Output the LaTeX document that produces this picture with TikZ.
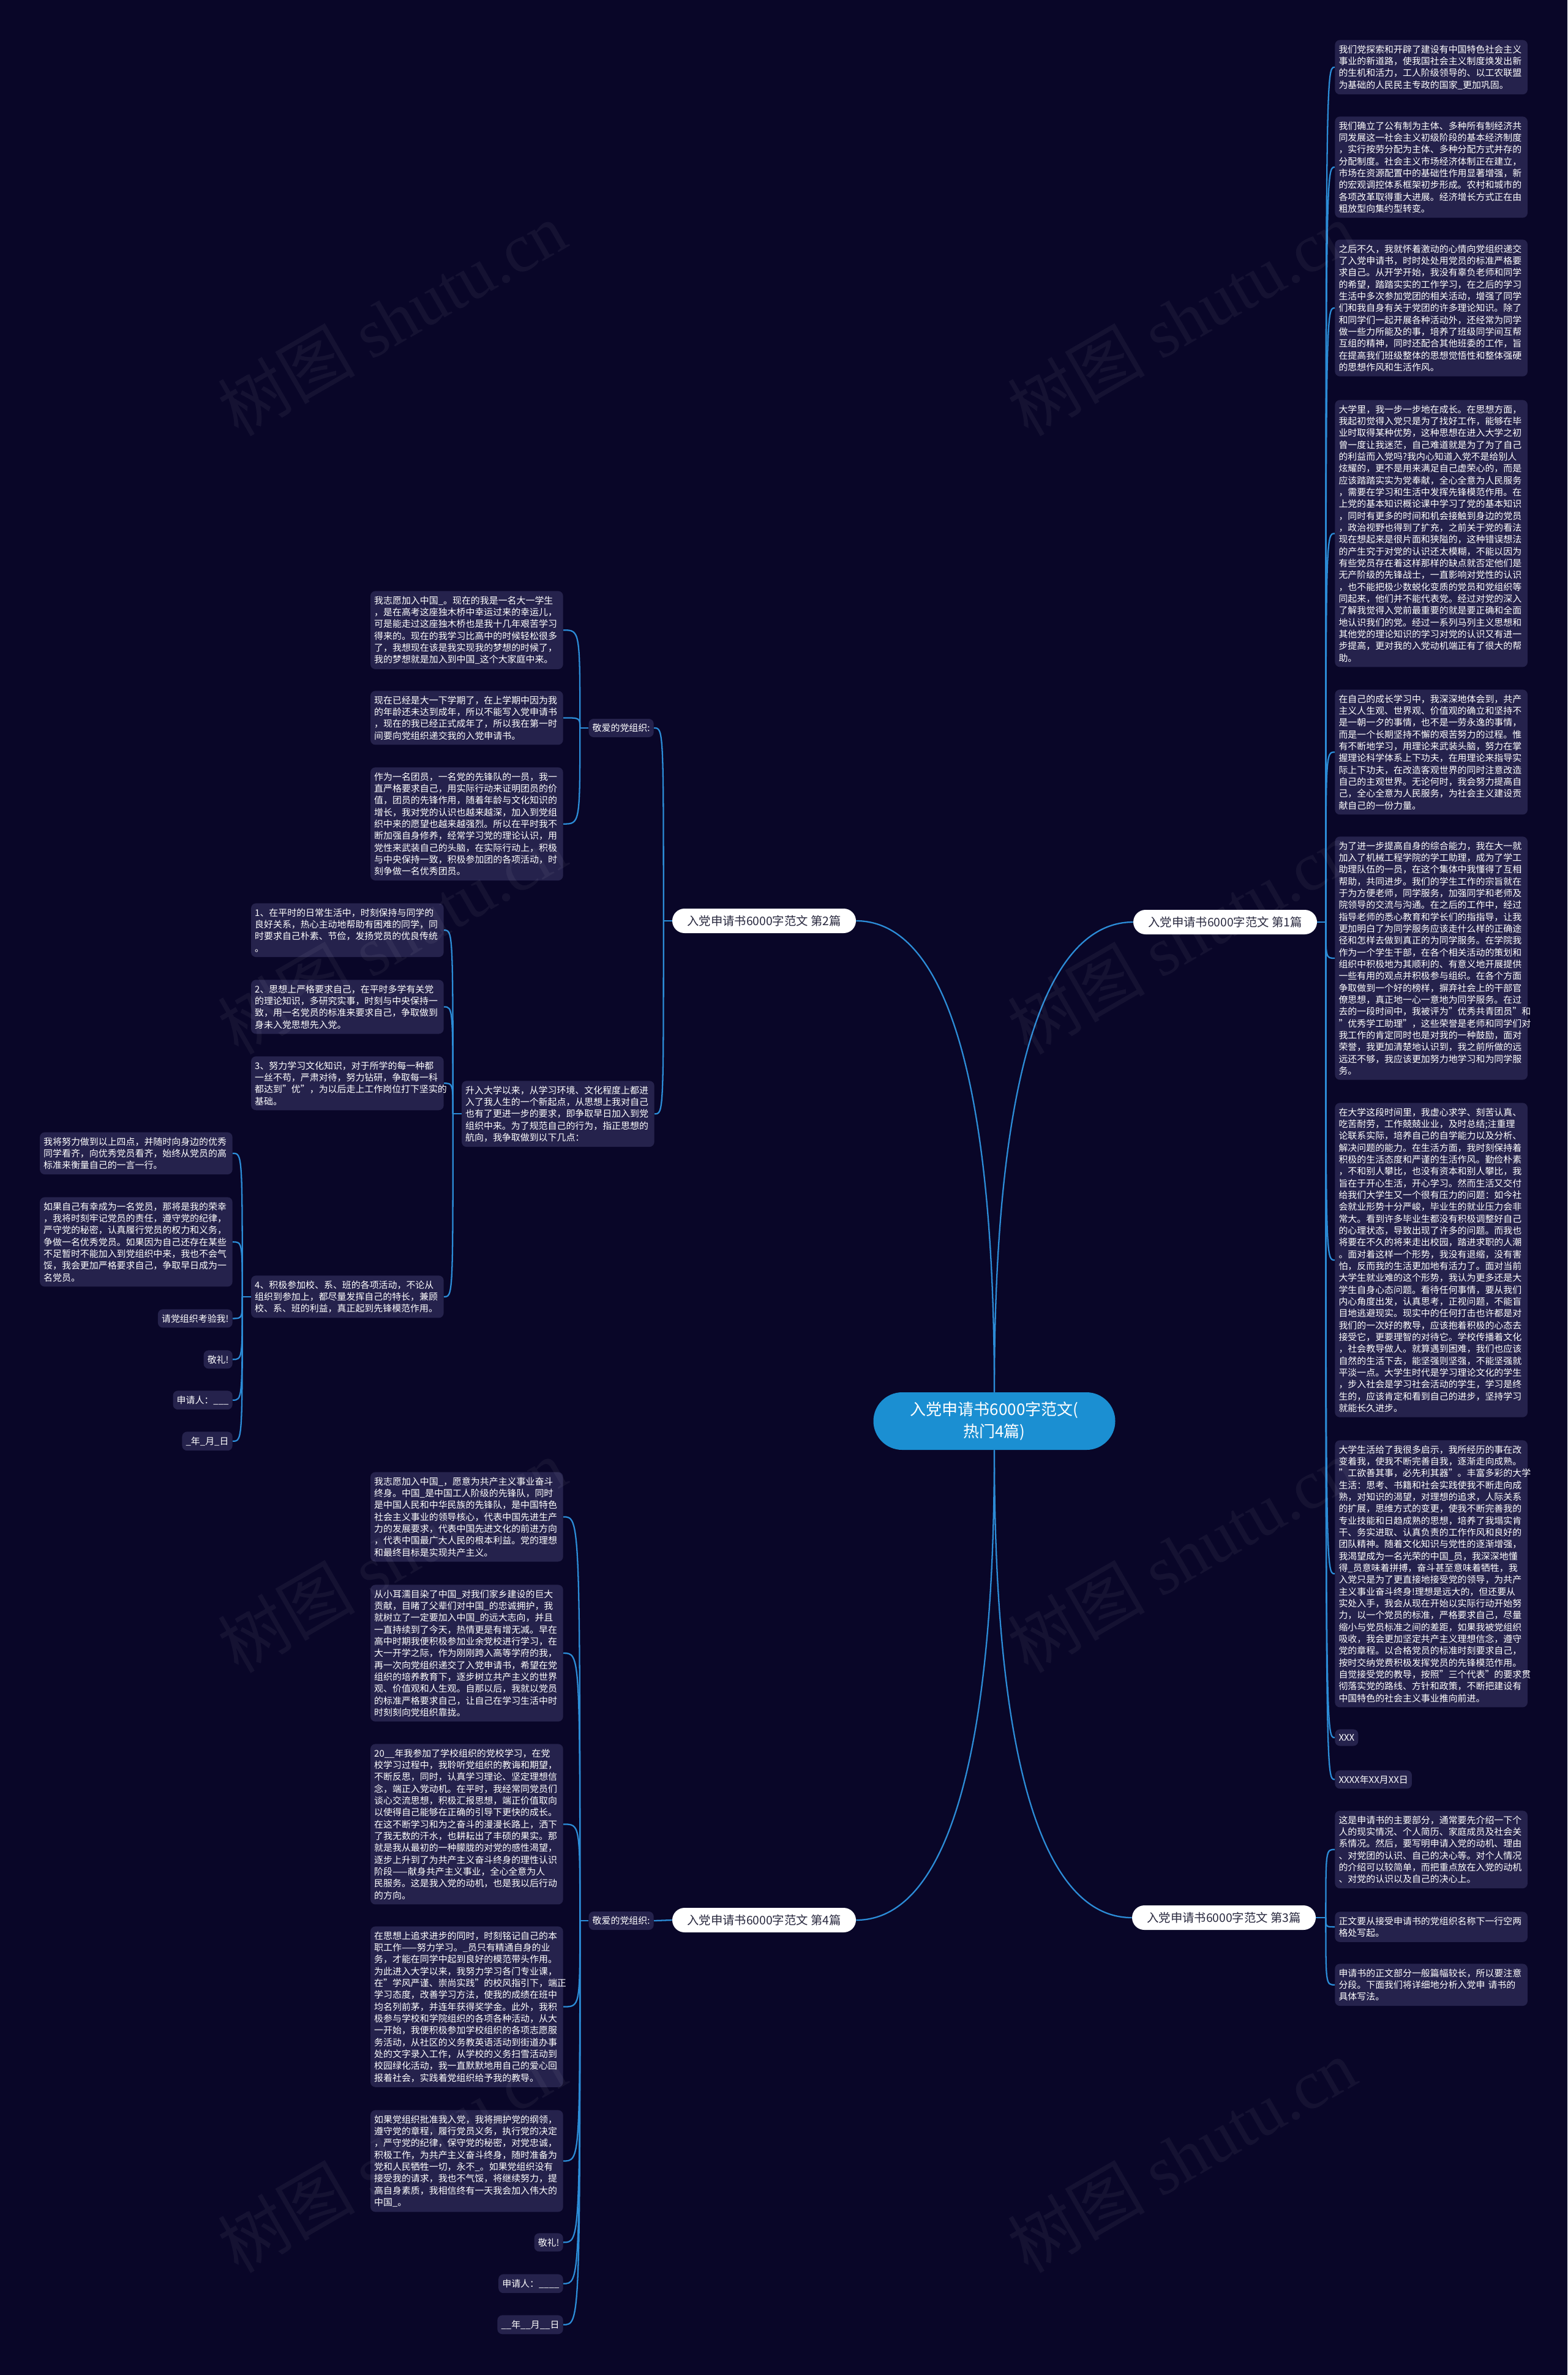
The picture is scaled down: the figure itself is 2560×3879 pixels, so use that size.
\documentclass[tikz,border=0pt]{standalone}
\usepackage{fontspec}
\setmainfont{Noto Sans CJK SC}
\newfontfamily\wmfont{Liberation Serif}

\definecolor{bgnavy}{RGB}{9,6,40}
\definecolor{cardfill}{RGB}{37,34,76}
\definecolor{linkblue}{RGB}{44,140,215}
\definecolor{rootblue}{RGB}{27,143,210}
\definecolor{pilltext}{RGB}{40,40,62}

\begin{document}
\begin{tikzpicture}[x=0.2mm,y=-0.2mm,
    cardbase/.style={fill=cardfill, rounded corners=1.6mm, text=white,
      font=\fontsize{8.5}{11}\selectfont, inner xsep=3.5pt, inner ysep=4.6pt},
    card/.style={cardbase, align=left, text width=172pt},
    tag/.style={cardbase},
    branch/.style={fill=white, text=pilltext, rounded corners=4mm, minimum width=60mm,
      minimum height=8mm, inner sep=0pt, font=\fontsize{11}{13}\selectfont},
    root/.style={fill=rootblue, text=white, rounded corners=9.4mm, minimum width=79mm,
      minimum height=18.8mm, align=center, font=\fontsize{14.8}{20}\selectfont},
    link/.style={draw=linkblue, line width=1.3pt},
    wmark/.style={text=white, opacity=0.05, rotate=30, font=\fontsize{64}{70}\selectfont}]

    % Background and page size
    \fill[bgnavy] (0,0) rectangle (2560,3879);
    \useasboundingbox (0,0) rectangle (2560,3879);

    % Root and the four essays
    \node[root] (root) at (1624,2321) {入党申请书6000字范文(\\热门4篇)};
    \node[branch] (b1) at (2001,1506) {入党申请书6000字范文 第1篇};
    \node[branch] (b2) at (1248,1504) {入党申请书6000字范文 第2篇};
    \node[branch] (b3) at (1999,3132) {入党申请书6000字范文 第3篇};
    \node[branch] (b4) at (1248,3136) {入党申请书6000字范文 第4篇};

    % Essay 1 (right column)
    \node[card, anchor=north west] (p1) at (2180,65) {我们党探索和开辟了建设有中国特色社会主义\\
事业的新道路，使我国社会主义制度焕发出新\\
的生机和活力，工人阶级领导的、以工农联盟\\
为基础的人民民主专政的国家\_更加巩固。};
    \node[card, anchor=north west] (p2) at (2180,190) {我们确立了公有制为主体、多种所有制经济共\\
同发展这一社会主义初级阶段的基本经济制度\\
，实行按劳分配为主体、多种分配方式并存的\\
分配制度。社会主义市场经济体制正在建立，\\
市场在资源配置中的基础性作用显著增强，新\\
的宏观调控体系框架初步形成。农村和城市的\\
各项改革取得重大进展。经济增长方式正在由\\
粗放型向集约型转变。};
    \node[card, anchor=north west] (p3) at (2180,391) {之后不久，我就怀着激动的心情向党组织递交\\
了入党申请书，时时处处用党员的标准严格要\\
求自己。从开学开始，我没有辜负老师和同学\\
的希望，踏踏实实的工作学习，在之后的学习\\
生活中多次参加党团的相关活动，增强了同学\\
们和我自身有关于党团的许多理论知识。除了\\
和同学们一起开展各种活动外，还经常为同学\\
做一些力所能及的事，培养了班级同学间互帮\\
互组的精神，同时还配合其他班委的工作，旨\\
在提高我们班级整体的思想觉悟性和整体强硬\\
的思想作风和生活作风。};
    \node[card, anchor=north west] (p4) at (2180,653) {大学里，我一步一步地在成长。在思想方面，\\
我起初觉得入党只是为了找好工作，能够在毕\\
业时取得某种优势，这种思想在进入大学之初\\
曾一度让我迷茫，自己难道就是为了为了自己\\
的利益而入党吗?我内心知道入党不是给别人\\
炫耀的，更不是用来满足自己虚荣心的，而是\\
应该踏踏实实为党奉献，全心全意为人民服务\\
，需要在学习和生活中发挥先锋模范作用。在\\
上党的基本知识概论课中学习了党的基本知识\\
，同时有更多的时间和机会接触到身边的党员\\
，政治视野也得到了扩充，之前关于党的看法\\
现在想起来是很片面和狭隘的，这种错误想法\\
的产生究于对党的认识还太模糊，不能以因为\\
有些党员存在着这样那样的缺点就否定他们是\\
无产阶级的先锋战士，一直影响对党性的认识\\
，也不能把极少数蜕化变质的党员和党组织等\\
同起来，他们并不能代表党。经过对党的深入\\
了解我觉得入党前最重要的就是要正确和全面\\
地认识我们的党。经过一系列马列主义思想和\\
其他党的理论知识的学习对党的认识又有进一\\
步提高，更对我的入党动机端正有了很大的帮\\
助。};
    \node[card, anchor=north west] (p5) at (2180,1126) {在自己的成长学习中，我深深地体会到，共产\\
主义人生观、世界观、价值观的确立和坚持不\\
是一朝一夕的事情，也不是一劳永逸的事情，\\
而是一个长期坚持不懈的艰苦努力的过程。惟\\
有不断地学习，用理论来武装头脑，努力在掌\\
握理论科学体系上下功夫，在用理论来指导实\\
际上下功夫，在改造客观世界的同时注意改造\\
自己的主观世界。无论何时，我会努力提高自\\
己，全心全意为人民服务，为社会主义建设贡\\
献自己的一份力量。};
    \node[card, anchor=north west] (p6) at (2180,1366) {为了进一步提高自身的综合能力，我在大一就\\
加入了机械工程学院的学工助理，成为了学工\\
助理队伍的一员，在这个集体中我懂得了互相\\
帮助，共同进步。我们的学生工作的宗旨就在\\
于为方便老师，同学服务，加强同学和老师及\\
院领导的交流与沟通。在之后的工作中，经过\\
指导老师的悉心教育和学长们的指指导，让我\\
更加明白了为同学服务应该走什么样的正确途\\
径和怎样去做到真正的为同学服务。在学院我\\
作为一个学生干部，在各个相关活动的策划和\\
组织中积极地为其顺利的、有意义地开展提供\\
一些有用的观点并积极参与组织。在各个方面\\
争取做到一个好的榜样，摒弃社会上的干部官\\
僚思想，真正地一心一意地为同学服务。在过\\
去的一段时间中，我被评为"优秀共青团员"和\\
"优秀学工助理"，这些荣誉是老师和同学们对\\
我工作的肯定同时也是对我的一种鼓励，面对\\
荣誉，我更加清楚地认识到，我之前所做的远\\
远还不够，我应该更加努力地学习和为同学服\\
务。};
    \node[card, anchor=north west] (p7) at (2180,1801) {在大学这段时间里，我虚心求学、刻苦认真、\\
吃苦耐劳，工作兢兢业业，及时总结;注重理\\
论联系实际，培养自己的自学能力以及分析、\\
解决问题的能力。在生活方面，我时刻保持着\\
积极的生活态度和严谨的生活作风。勤俭朴素\\
，不和别人攀比，也没有资本和别人攀比，我\\
旨在于开心生活，开心学习。然而生活又交付\\
给我们大学生又一个很有压力的问题：如今社\\
会就业形势十分严峻，毕业生的就业压力会非\\
常大。看到许多毕业生都没有积极调整好自己\\
的心理状态，导致出现了许多的问题。而我也\\
将要在不久的将来走出校园，踏进求职的人潮\\
。面对着这样一个形势，我没有退缩，没有害\\
怕，反而我的生活更加地有活力了。面对当前\\
大学生就业难的这个形势，我认为更多还是大\\
学生自身心态问题。看待任何事情，要从我们\\
内心角度出发，认真思考，正视问题，不能盲\\
目地逃避现实。现实中的任何打击也许都是对\\
我们的一次好的教导，应该抱着积极的心态去\\
接受它，更要理智的对待它。学校传播着文化\\
，社会教导做人。就算遇到困难，我们也应该\\
自然的生活下去，能坚强则坚强，不能坚强就\\
平淡一点。大学生时代是学习理论文化的学生\\
，步入社会是学习社会活动的学生，学习是终\\
生的，应该肯定和看到自己的进步，坚持学习\\
就能长久进步。};
    \node[card, anchor=north west] (p8) at (2180,2352) {大学生活给了我很多启示，我所经历的事在改\\
变着我，使我不断完善自我，逐渐走向成熟。\\
"工欲善其事，必先利其器"。丰富多彩的大学\\
生活：思考、书籍和社会实践使我不断走向成\\
熟，对知识的渴望，对理想的追求，人际关系\\
的扩展，思维方式的变更，使我不断完善我的\\
专业技能和日趋成熟的思想，培养了我塌实肯\\
干、务实进取、认真负责的工作作风和良好的\\
团队精神。随着文化知识与党性的逐渐增强，\\
我渴望成为一名光荣的中国\_员，我深深地懂\\
得\_员意味着拼搏，奋斗甚至意味着牺牲，我\\
入党只是为了更直接地接受党的领导，为共产\\
主义事业奋斗终身!理想是远大的，但还要从\\
实处入手，我会从现在开始以实际行动开始努\\
力，以一个党员的标准，严格要求自己，尽量\\
缩小与党员标准之间的差距，如果我被党组织\\
吸收，我会更加坚定共产主义理想信念，遵守\\
党的章程。以合格党员的标准时刻要求自己，\\
按时交纳党费积极发挥党员的先锋模范作用。\\
自觉接受党的教导，按照"三个代表"的要求贯\\
彻落实党的路线、方针和政策，不断把建设有\\
中国特色的社会主义事业推向前进。};
    \node[tag, anchor=north west] (p9) at (2180,2824) {XXX};
    \node[tag, anchor=north west] (p10) at (2180,2891) {XXXX年XX月XX日};

    % Essay 3 (right column, bottom)
    \node[card, anchor=north west] (q1) at (2180,2957) {这是申请书的主要部分，通常要先介绍一下个\\
人的现实情况、个人简历、家庭成员及社会关\\
系情况。然后，要写明申请入党的动机、理由\\
、对党团的认识、自己的决心等。对个人情况\\
的介绍可以较简单，而把重点放在入党的动机\\
、对党的认识以及自己的决心上。};
    \node[card, anchor=north west] (q2) at (2180,3122) {正文要从接受申请书的党组织名称下一行空两\\
格处写起。};
    \node[card, anchor=north west] (q3) at (2180,3207) {申请书的正文部分一般篇幅较长，所以要注意\\
分段。下面我们将详细地分析入党申 请书的\\
具体写法。};

    % Essay 2 (left, top)
    \node[tag, anchor=east] (g2) at (1068,1189) {敬爱的党组织:};
    \node[card, anchor=north east] (s2) at (1069,1765) {升入大学以来，从学习环境、文化程度上都进\\
入了我人生的一个新起点，从思想上我对自己\\
也有了更进一步的要求，即争取早日加入到党\\
组织中来。为了规范自己的行为，指正思想的\\
航向，我争取做到以下几点：};
    \node[card, anchor=north east] (a1) at (920,965) {我志愿加入中国\_。现在的我是一名大一学生\\
，是在高考这座独木桥中幸运过来的幸运儿，\\
可是能走过这座独木桥也是我十几年艰苦学习\\
得来的。现在的我学习比高中的时候轻松很多\\
了，我想现在该是我实现我的梦想的时候了，\\
我的梦想就是加入到中国\_这个大家庭中来。};
    \node[card, anchor=north east] (a2) at (920,1128) {现在已经是大一下学期了，在上学期中因为我\\
的年龄还未达到成年，所以不能写入党申请书\\
，现在的我已经正式成年了，所以我在第一时\\
间要向党组织递交我的入党申请书。};
    \node[card, anchor=north east] (a3) at (920,1253) {作为一名团员，一名党的先锋队的一员，我一\\
直严格要求自己，用实际行动来证明团员的价\\
值，团员的先锋作用，随着年龄与文化知识的\\
增长，我对党的认识也越来越深，加入到党组\\
织中来的愿望也越来越强烈。所以在平时我不\\
断加强自身修养，经常学习党的理论认识，用\\
党性来武装自己的头脑，在实际行动上，积极\\
与中央保持一致，积极参加团的各项活动，时\\
刻争做一名优秀团员。};
    \node[card, anchor=north east] (n1) at (725,1475) {1、在平时的日常生活中，时刻保持与同学的\\
良好关系，热心主动地帮助有困难的同学，同\\
时要求自己朴素、节俭，发扬党员的优良传统\\
。};
    \node[card, anchor=north east] (n2) at (725,1600) {2、思想上严格要求自己，在平时多学有关党\\
的理论知识，多研究实事，时刻与中央保持一\\
致，用一名党员的标准来要求自己，争取做到\\
身未入党思想先入党。};
    \node[card, anchor=north east] (n3) at (725,1725) {3、努力学习文化知识，对于所学的每一种都\\
一丝不苟，严肃对待，努力钻研，争取每一科\\
都达到"优"，为以后走上工作岗位打下坚实的\\
基础。};
    \node[card, anchor=north east] (n4) at (725,2083) {4、积极参加校、系、班的各项活动，不论从\\
组织到参加上，都尽量发挥自己的特长，兼顾\\
校、系、班的利益，真正起到先锋模范作用。};
    \node[card, anchor=north east] (m1) at (380,1849) {我将努力做到以上四点，并随时向身边的优秀\\
同学看齐，向优秀党员看齐，始终从党员的高\\
标准来衡量自己的一言一行。};
    \node[card, anchor=north east] (m2) at (380,1955) {如果自己有幸成为一名党员，那将是我的荣幸\\
，我将时刻牢记党员的责任，遵守党的纪律，\\
严守党的秘密，认真履行党员的权力和义务，\\
争做一名优秀党员。如果因为自己还存在某些\\
不足暂时不能加入到党组织中来，我也不会气\\
馁，我会更加严格要求自己，争取早日成为一\\
名党员。};
    \node[tag, anchor=north east] (m3) at (380,2138) {请党组织考验我!};
    \node[tag, anchor=north east] (m4) at (380,2205) {敬礼!};
    \node[tag, anchor=north east] (m5) at (380,2271) {申请人：\_\_\_};
    \node[tag, anchor=north east] (m6) at (380,2338) {\_年\_月\_日};

    % Essay 4 (left, bottom)
    \node[tag, anchor=east] (g4) at (1068,3137) {敬爱的党组织:};
    \node[card, anchor=north east] (c1) at (920,2404) {我志愿加入中国\_，愿意为共产主义事业奋斗\\
终身。中国\_是中国工人阶级的先锋队，同时\\
是中国人民和中华民族的先锋队，是中国特色\\
社会主义事业的领导核心，代表中国先进生产\\
力的发展要求，代表中国先进文化的前进方向\\
，代表中国最广大人民的根本利益。党的理想\\
和最终目标是实现共产主义。};
    \node[card, anchor=north east] (c2) at (920,2588) {从小耳濡目染了中国\_对我们家乡建设的巨大\\
贡献，目睹了父辈们对中国\_的忠诚拥护，我\\
就树立了一定要加入中国\_的远大志向，并且\\
一直持续到了今天，热情更是有增无减。早在\\
高中时期我便积极参加业余党校进行学习，在\\
大一开学之际，作为刚刚跨入高等学府的我，\\
再一次向党组织递交了入党申请书，希望在党\\
组织的培养教育下，逐步树立共产主义的世界\\
观、价值观和人生观。自那以后，我就以党员\\
的标准严格要求自己，让自己在学习生活中时\\
时刻刻向党组织靠拢。};
    \node[card, anchor=north east] (c3) at (920,2848) {20\_\_年我参加了学校组织的党校学习，在党\\
校学习过程中，我聆听党组织的教诲和期望，\\
不断反思，同时，认真学习理论、坚定理想信\\
念，端正入党动机。在平时，我经常同党员们\\
谈心交流思想，积极汇报思想，端正价值取向\\
以使得自己能够在正确的引导下更快的成长。\\
在这不断学习和为之奋斗的漫漫长路上，洒下\\
了我无数的汗水，也耕耘出了丰硕的果实。那\\
就是我从最初的一种朦胧的对党的感性渴望，\\
逐步上升到了为共产主义奋斗终身的理性认识\\
阶段——献身共产主义事业，全心全意为人\\
民服务。这是我入党的动机，也是我以后行动\\
的方向。};
    \node[card, anchor=north east] (c4) at (920,3146) {在思想上追求进步的同时，时刻铭记自己的本\\
职工作——努力学习。\_员只有精通自身的业\\
务，才能在同学中起到良好的模范带头作用。\\
为此进入大学以来，我努力学习各门专业课，\\
在"学风严谨、崇尚实践"的校风指引下，端正\\
学习态度，改善学习方法，使我的成绩在班中\\
均名列前茅，并连年获得奖学金。此外，我积\\
极参与学校和学院组织的各项各种活动，从大\\
一开始，我便积极参加学校组织的各项志愿服\\
务活动，从社区的义务教英语活动到街道办事\\
处的文字录入工作，从学校的义务扫雪活动到\\
校园绿化活动，我一直默默地用自己的爱心回\\
报着社会，实践着党组织给予我的教导。};
    \node[card, anchor=north east] (c5) at (920,3446) {如果党组织批准我入党，我将拥护党的纲领，\\
遵守党的章程，履行党员义务，执行党的决定\\
，严守党的纪律，保守党的秘密，对党忠诚，\\
积极工作，为共产主义奋斗终身，随时准备为\\
党和人民牺牲一切，永不\_。如果党组织没有\\
接受我的请求，我也不气馁，将继续努力，提\\
高自身素质，我相信终有一天我会加入伟大的\\
中国\_。};
    \node[tag, anchor=north east] (c6) at (920,3647) {敬礼!};
    \node[tag, anchor=north east] (c7) at (920,3714) {申请人：\_\_\_\_};
    \node[tag, anchor=north east] (c8) at (920,3781) {\_\_年\_\_月\_\_日};

    % Links from the root to the essays
    \draw[link] (root.north) .. controls +(0,-560) and +(130,0) .. (b2.east);
    \draw[link] (root.north) .. controls +(0,-560) and +(-130,0) .. (b1.west);
    \draw[link] (root.south) .. controls +(0,560) and +(130,0) .. (b4.east);
    \draw[link] (root.south) .. controls +(0,560) and +(-130,0) .. (b3.west);

    % Links on the right side
    \path (b1.east) ++(14,0) coordinate (t1);
    \draw[link] (b1.east) -- (t1);
    \foreach \c in {p1,p2,p3,p4,p5,p6,p7,p8,p9,p10}
      \draw[link] (t1) .. controls (t1 |- \c.west) .. (\c.west);
    \path (b3.east) ++(16,0) coordinate (t3);
    \draw[link] (b3.east) -- (t3);
    \foreach \c in {q1,q2,q3}
      \draw[link] (t3) .. controls (t3 |- \c.west) .. (\c.west);

    % Links on the left side
    \path (b2.west) ++(-14,0) coordinate (t2);
    \draw[link] (b2.west) -- (t2);
    \foreach \c in {g2,s2}
      \draw[link] (t2) .. controls (t2 |- \c.east) .. (\c.east);
    \path (g2.west) ++(-14,0) coordinate (tg2);
    \draw[link] (g2.west) -- (tg2);
    \foreach \c in {a1,a2,a3}
      \draw[link] (tg2) .. controls (tg2 |- \c.east) .. (\c.east);
    \path (s2.west) ++(-14,0) coordinate (ts2);
    \draw[link] (s2.west) -- (ts2);
    \foreach \c in {n1,n2,n3,n4}
      \draw[link] (ts2) .. controls (ts2 |- \c.east) .. (\c.east);
    \path (n4.west) ++(-14,0) coordinate (tn4);
    \draw[link] (n4.west) -- (tn4);
    \foreach \c in {m1,m2,m3,m4,m5,m6}
      \draw[link] (tn4) .. controls (tn4 |- \c.east) .. (\c.east);
    \draw[link] (b4.west) -- (g4.east);
    \path (g4.west) ++(-14,0) coordinate (tg4);
    \draw[link] (g4.west) -- (tg4);
    \foreach \c in {c1,c2,c3,c4,c5,c6,c7,c8}
      \draw[link] (tg4) .. controls (tg4 |- \c.east) .. (\c.east);

    % Watermarks
    \foreach \wx in {640,1930}
      \foreach \wy in {520,1530,2540,3520}
        \node[wmark] (wm) at (\wx,\wy) {树图 {\wmfont shutu.cn}};
\end{tikzpicture}
\end{document}
